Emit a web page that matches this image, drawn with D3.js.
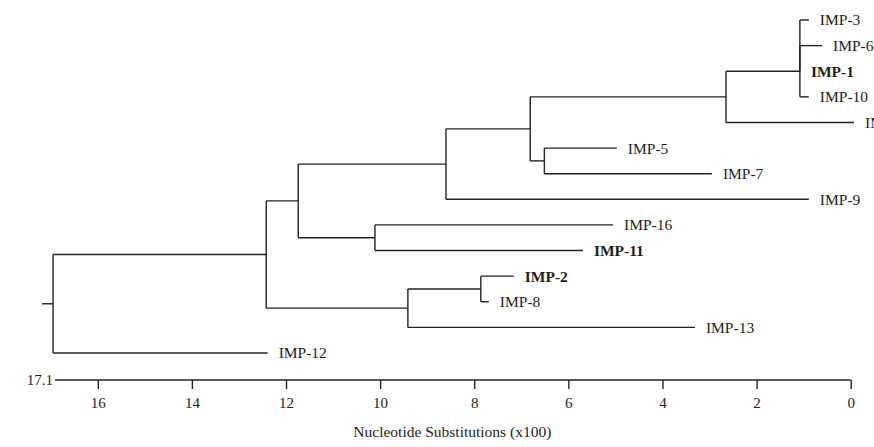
<!DOCTYPE html>
<html>
<head>
<meta charset="utf-8">
<script src="https://cdn.jsdelivr.net/npm/d3@7"></script>
<style>
  body { margin: 0; background: #fff; }
  svg { display: block; }
  text { font-family: "Liberation Serif", "Times New Roman", serif; fill: #1e1e1e; }
</style>
</head>
<body>
<div id="tree"></div>
<script>
// leaves, top to bottom, and where each branch tip sits on the axis
const leafNames = ["IMP-3", "IMP-6", "IMP-1", "IMP-10", "IMP-4", "IMP-5", "IMP-7",
  "IMP-9", "IMP-16", "IMP-11", "IMP-2", "IMP-8", "IMP-13", "IMP-12"];
const leafDepths = [0.89, 0.61, 1.08, 0.89, -0.07, 4.97, 2.95,
  0.89, 5.05, 5.69, 7.16, 7.69, 3.31, 12.39];
const boldLeaves = ["IMP-1", "IMP-11", "IMP-2"];

// internal nodes
const nodeNames = ["root", "n1", "n2", "n3", "n4", "n5", "n6", "n7", "n8", "n9", "n10", "n11"];
const nodeDepths = [16.95, 12.42, 11.74, 8.60, 6.81, 2.65, 1.08, 1.08, 6.51, 10.11, 9.41, 7.86];
const nodeKids = [
  ["n1", "IMP-12"],
  ["n2", "n10"],
  ["n3", "n9"],
  ["n4", "IMP-9"],
  ["n5", "n8"],
  ["n6", "IMP-4"],
  ["n7", "IMP-10"],
  ["IMP-3", "IMP-6", "IMP-1"],
  ["IMP-5", "IMP-7"],
  ["IMP-16", "IMP-11"],
  ["n11", "IMP-13"],
  ["IMP-2", "IMP-8"]
];

const axisMax = 17.1;
const axisTicks = [16, 14, 12, 10, 8, 6, 4, 2, 0];
const axisTitle = "Nucleotide Substitutions (x100)";

const width = 874, height = 447;
const lineColor = "#222";

// build the tree object
const byName = {};
leafNames.forEach((n, i) => { byName[n] = { name: n, depth: leafDepths[i] }; });
nodeNames.forEach((n, i) => { byName[n] = { name: n, depth: nodeDepths[i] }; });
nodeNames.forEach((n, i) => { byName[n].children = nodeKids[i].map(k => byName[k]); });

const root = d3.hierarchy(byName.root, d => d.children);

const x = d3.scaleLinear().domain([axisMax, 0]).range([46, 850.7]);
const y = d3.scalePoint().domain(leafNames).range([20, 353]);

// leaves on their rows, internal nodes midway between first and last child
root.eachAfter(d => {
  if (!d.children) d.py = y(d.data.name);
  else d.py = (d.children[0].py + d.children[d.children.length - 1].py) / 2;
  d.px = x(d.data.depth);
});

const svg = d3.select("#tree")
  .append("svg")
  .attr("width", width)
  .attr("height", height);

const g = svg.append("g")
  .attr("fill", "none")
  .attr("stroke", lineColor)
  .attr("stroke-width", 1.4);

// horizontal branches
g.selectAll("path.branch")
  .data(root.descendants().filter(d => d.parent))
  .enter()
  .append("path")
  .attr("class", "branch")
  .attr("d", d => `M${d.parent.px},${d.py}H${d.px}`);

// vertical connectors
g.selectAll("path.join")
  .data(root.descendants().filter(d => d.children))
  .enter()
  .append("path")
  .attr("class", "join")
  .attr("d", d => `M${d.px},${d.children[0].py}V${d.children[d.children.length - 1].py}`);

// root stub
g.append("path")
  .attr("d", `M${root.px - 11},${root.py}H${root.px}`);

// leaf labels (the last one runs off the right edge, as in the source figure)
svg.selectAll("text.leaf")
  .data(root.leaves())
  .enter()
  .append("text")
  .attr("class", "leaf")
  .attr("x", d => d.px + 11)
  .attr("y", d => d.py)
  .attr("dy", "0.35em")
  .style("font-size", "15.5px")
  .style("font-weight", d => boldLeaves.includes(d.data.name) ? "bold" : "normal")
  .text(d => d.data.name);

// axis
const axisY = 380;
const axis = svg.append("g")
  .attr("transform", `translate(0,${axisY})`)
  .call(d3.axisBottom(x).tickValues(axisTicks).tickSize(9).tickSizeOuter(0).tickPadding(8));

axis.select(".domain").remove();
axis.selectAll(".tick line").attr("stroke", lineColor).attr("stroke-width", 1.4);
axis.selectAll(".tick text")
  .style("font-size", "15px")
  .style("font-family", "'Liberation Serif', 'Times New Roman', serif")
  .attr("fill", "#1e1e1e");

axis.append("line")
  .attr("x1", x(root.data.depth) + 2)
  .attr("x2", x(0))
  .attr("stroke", lineColor)
  .attr("stroke-width", 1.4);

axis.append("text")
  .attr("x", x(root.data.depth))
  .attr("y", 0)
  .attr("dy", "0.35em")
  .attr("text-anchor", "end")
  .style("font-size", "15px")
  .text(axisMax);

svg.append("text")
  .attr("x", (x(axisMax) + x(0)) / 2 + 4)
  .attr("y", 432)
  .attr("dy", "0.35em")
  .attr("text-anchor", "middle")
  .style("font-size", "15.5px")
  .text(axisTitle);
</script>
</body>
</html>
